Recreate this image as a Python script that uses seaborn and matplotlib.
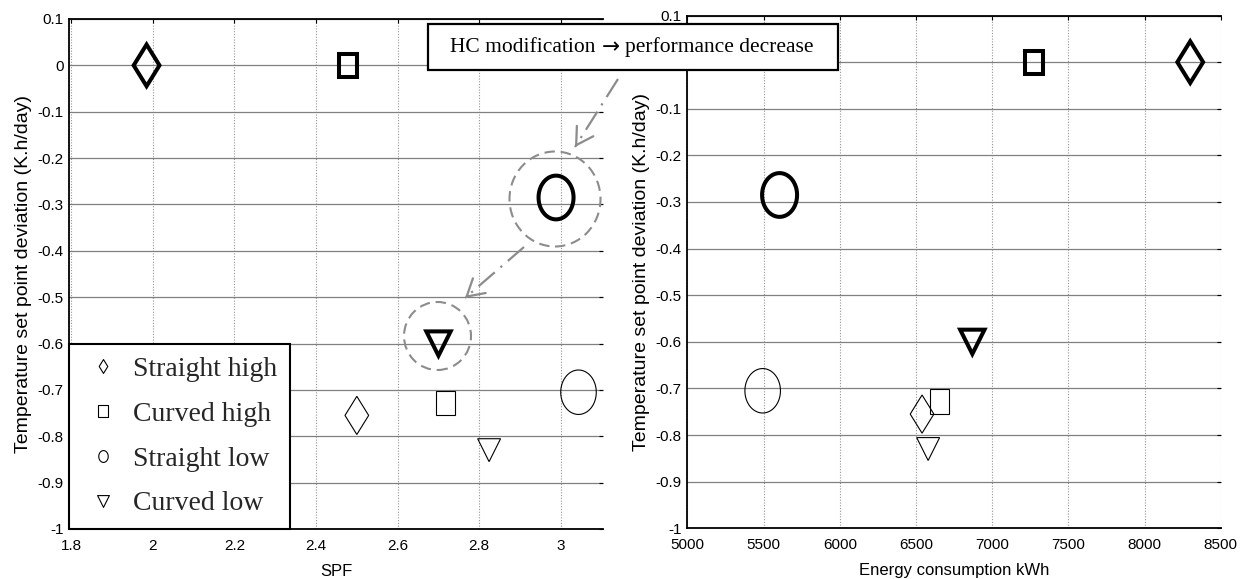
import numpy as np
import pandas as pd
import matplotlib
matplotlib.use("Agg")
import matplotlib.pyplot as plt
import seaborn as sns
from matplotlib.path import Path
from matplotlib.markers import MarkerStyle
from matplotlib.patches import Rectangle, Ellipse, FancyArrowPatch
from matplotlib.lines import Line2D
from matplotlib.font_manager import FontProperties

# ---------------- data ----------------
categories = ["Straight high", "Curved high", "Straight low", "Curved low"]
spf_bold = [1.985, 2.478, 2.988, 2.700]
dev_bold = [0.0, 0.0, -0.285, -0.600]
energy_bold = [8300, 7275, 5605, 6870]
spf_thin = [2.500, 2.717, 3.043, 2.824]
dev_thin = [-0.755, -0.728, -0.705, -0.830]
energy_thin = [6540, 6652, 5494, 6580]

spf_ticks = [1.8, 2.0, 2.2, 2.4, 2.6, 2.8, 3.0]
spf_tick_labels = ["1.8", "2", "2.2", "2.4", "2.6", "2.8", "3"]
energy_ticks = [5000, 5500, 6000, 6500, 7000, 7500, 8000, 8500]
energy_tick_labels = ["5000", "5500", "6000", "6500", "7000", "7500", "8000", "8500"]
dev_ticks = [0.1, 0.0, -0.1, -0.2, -0.3, -0.4, -0.5, -0.6, -0.7, -0.8, -0.9, -1.0]
dev_tick_labels = ["0.1", "0", "-0.1", "-0.2", "-0.3", "-0.4", "-0.5", "-0.6",
                   "-0.7", "-0.8", "-0.9", "-1"]

# ---------------- style ----------------
sns.set_theme(style="white")
plt.rcParams["font.family"] = ["Liberation Sans", "DejaVu Sans"]
plt.rcParams["axes.unicode_minus"] = False

W, H = 1240, 579
fig = plt.figure(figsize=(W / 100, H / 100), dpi=100)
fig.patch.set_facecolor("white")


def fx(x):
    return x / W


def fy(y):
    return 1 - y / H


# marker shapes (slightly tall, like the reference)
M, L, C = Path.MOVETO, Path.LINETO, Path.CLOSEPOLY
diamond_path = Path([(0, 1), (0.62, 0), (0, -1), (-0.62, 0), (0, 1)], [M, L, L, L, C])
square_path = Path([(-0.78, -1), (0.78, -1), (0.78, 1), (-0.78, 1), (-0.78, -1)], [M, L, L, L, C])
_t = np.linspace(0, 2 * np.pi, 73)
circle_path = Path(np.column_stack([0.8 * np.cos(_t), np.sin(_t)]),
                   [M] + [L] * 71 + [C])
tri_path = Path([(-1, 1), (1, 1), (0, -1), (-1, 1)], [M, L, L, C])
paths = [diamond_path, square_path, circle_path, tri_path]
msizes_bold = [30.0, 16.5, 31.5, 17.5]
msizes_thin = [27.5, 17.5, 32.0, 16.5]
legend_sizes = [10.0, 8.5, 8.5, 8.5]

ax1 = fig.add_axes([fx(69), fy(529), fx(603 - 69), (529 - 19) / H])
ax2 = fig.add_axes([fx(687.4), fy(528.3), fx(1220.7 - 687.4), (528.3 - 15.5) / H])


def draw(ax, xb, xt):
    for i in range(len(categories)):
        sns.scatterplot(x=[xb[i]], y=[dev_bold[i]], ax=ax,
                        marker=MarkerStyle(paths[i], joinstyle="miter"),
                        s=msizes_bold[i] ** 2, facecolor="none", edgecolor="black",
                        linewidth=2.9, zorder=3, legend=False)
        sns.scatterplot(x=[xt[i]], y=[dev_thin[i]], ax=ax,
                        marker=MarkerStyle(paths[i], joinstyle="miter"),
                        s=msizes_thin[i] ** 2, facecolor="none", edgecolor="black",
                        linewidth=0.8, zorder=3, legend=False)
    for coll in ax.collections:
        coll.set_joinstyle("miter")


def style_axes(ax, xticks, xlabels, xlim, xlabel):
    ax.set_xlim(*xlim)
    ax.set_ylim(-1.0, 0.1)
    ax.set_xticks(xticks)
    ax.set_xticklabels(xlabels)
    ax.set_yticks(dev_ticks)
    ax.set_yticklabels(dev_tick_labels)
    ax.set_axisbelow(True)
    ax.yaxis.grid(True, color="#808080", lw=0.9, ls="-")
    ax.xaxis.grid(True, color="#959595", lw=0.8, ls=(0, (1, 1.5)))
    for side in ["left", "bottom", "top"]:
        ax.spines[side].set_visible(True)
        ax.spines[side].set_color("black")
        ax.spines[side].set_linewidth(1.3)
    ax.spines["right"].set_visible(False)
    ax.tick_params(axis="both", direction="in", length=3, width=0.8, color="black",
                   top=True, right=True, labelsize=11, labelcolor="black")
    ax.tick_params(axis="x", pad=7)
    ax.tick_params(axis="y", pad=4)
    ax.set_xlabel(xlabel, fontsize=12, labelpad=8, color="black")
    ax.set_ylabel("Temperature set point deviation (K.h/day)", fontsize=14,
                  labelpad=4, color="black")


draw(ax1, spf_bold, spf_thin)
draw(ax2, energy_bold, energy_thin)
style_axes(ax1, spf_ticks, spf_tick_labels, (1.795, 3.103), "SPF")
style_axes(ax2, energy_ticks, energy_tick_labels, (5000, 8500), "Energy consumption kWh")

# legend
handles = [Line2D([], [], marker=MarkerStyle(paths[i]), linestyle="none",
                  markersize=legend_sizes[i], markerfacecolor="none",
                  markeredgecolor="black", markeredgewidth=0.8)
           for i in range(len(categories))]
leg = ax1.legend(handles, categories, loc="lower left", bbox_to_anchor=(0, 0),
                 borderaxespad=0,
                 prop=FontProperties(family=["Liberation Serif", "DejaVu Serif"], size=20),
                 frameon=True, fancybox=False, edgecolor="black", framealpha=1,
                 borderpad=0.45, handlelength=1.55, handletextpad=0.3, labelspacing=0.7)
leg.get_frame().set_linewidth(1.5)
leg.set_zorder(5)

# annotation box
fig.add_artist(Rectangle((fx(428), fy(70)), fx(838 - 428), (70 - 24) / H,
                         transform=fig.transFigure, facecolor="white",
                         edgecolor="black", linewidth=1.6, zorder=10))
serif = ["Liberation Serif", "DejaVu Serif"]
renderer = fig.canvas.get_renderer()
pieces = [("HC modification", serif, 15.5), ("\u2192", ["DejaVu Sans"], 15.5),
          ("performance decrease", serif, 15.5)]
gap = 6.0
texts = []
widths = []
for s, fam, fs in pieces:
    t = fig.text(0, fy(47), s, ha="left", va="center", fontsize=fs, family=fam,
                 color="black", zorder=11)
    texts.append(t)
    widths.append(t.get_window_extent(renderer).width)
total = sum(widths) + gap * (len(widths) - 1)
xcur = 632 - total / 2
for t, w in zip(texts, widths):
    t.set_x(fx(xcur))
    xcur += w + gap

gray = "#8c8c8c"
# dashed circles
for (cx, cy, w, h) in [(555, 199, 91, 95), (437.5, 336, 67, 68)]:
    fig.add_artist(Ellipse((fx(cx), fy(cy)), fx(w), h / H, transform=fig.transFigure,
                           facecolor="none", edgecolor=gray, linewidth=1.5,
                           linestyle=(0, (5, 2.8)), zorder=6))

# dash-dot arrows
for (x0, y0, x1, y1) in [(618, 79, 575, 147), (524, 247, 465, 298)]:
    fig.add_artist(Line2D([fx(x0), fx(x1)], [fy(y0), fy(y1)], transform=fig.transFigure,
                          color=gray, linewidth=1.6, linestyle=(0, (9.6, 3.4, 1, 3.4)),
                          zorder=6))
    d = np.array([x1 - x0, y1 - y0], dtype=float)
    d /= np.hypot(*d)
    xa, ya = x1 - 3 * d[0], y1 - 3 * d[1]
    fig.add_artist(FancyArrowPatch((fx(xa), fy(ya)), (fx(x1), fy(y1)),
                                   transform=fig.transFigure,
                                   arrowstyle="->,head_length=12,head_width=7",
                                   mutation_scale=1, shrinkA=0, shrinkB=0,
                                   color=gray, linewidth=1.6, zorder=6))

fig.savefig("out.png", dpi=100, facecolor="white")
